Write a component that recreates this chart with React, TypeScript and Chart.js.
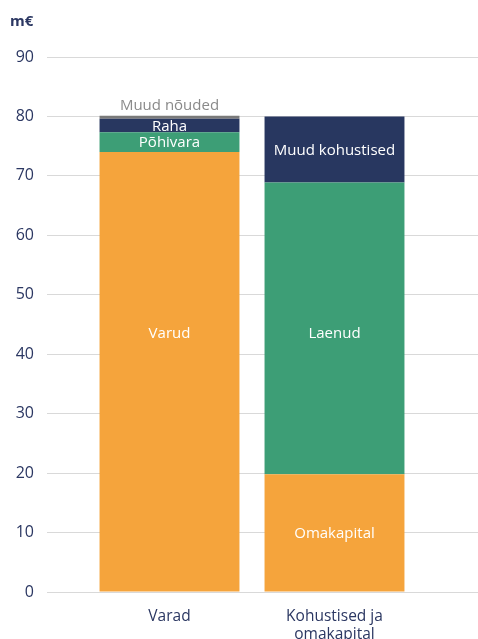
import React, { useEffect, useRef } from "react";
import { Chart, registerables } from "chart.js";

Chart.register(...registerables);

const categories: (string | string[])[] = ["Varad", ["Kohustised ja", "omakapital"]];
const yTicks = { min: 0, max: 90, step: 10 };
const unitLabel = "m€";

// Varad (assets)
const varud = [74, null];
const pohivara = [3.35, null];
const raha = [2.25, null];
const muudNouded = [0.5, null];
// Kohustised ja omakapital
const omakapital = [null, 19.8];
const laenud = [null, 49.1];
const muudKohustised = [null, 11.1];

const ORANGE = "#F5A43C";
const GREEN = "#3D9E76";
const NAVY = "#283760";
const GREY = "#7A7A7A";
const TEXT = "#2B3762";
const FONT = "'Open Sans', 'DejaVu Sans', sans-serif";

const segLabels = {
  id: "segLabels",
  afterDatasetsDraw(chart: any) {
    const ctx = chart.ctx;
    ctx.save();
    ctx.font = `15px ${FONT}`;
    ctx.textAlign = "center";
    ctx.textBaseline = "middle";
    let laenudY: number | null = null;
    chart.data.datasets.forEach((ds: any, di: number) => {
      if (ds.label === "Laenud") {
        const meta = chart.getDatasetMeta(di);
        meta.data.forEach((el: any, i: number) => {
          if (ds.data[i] == null) return;
          laenudY = (el.y + el.base) / 2;
        });
      }
    });
    chart.data.datasets.forEach((ds: any, di: number) => {
      const meta = chart.getDatasetMeta(di);
      meta.data.forEach((el: any, i: number) => {
        if (ds.data[i] == null) return;
        let cy = (el.y + el.base) / 2 + 1;
        if (ds.label === "Muud nõuded") {
          ctx.fillStyle = "#8A8A8A";
          ctx.fillText(ds.label, el.x, el.y - 10);
          return;
        }
        if ((ds.label === "Varud" || ds.label === "Laenud") && laenudY != null) cy = laenudY + 5;
        ctx.fillStyle = "#FFFFFF";
        ctx.fillText(ds.label, el.x, cy);
      });
    });
    ctx.restore();
  },
};

export default function App() {
  const ref = useRef<HTMLCanvasElement>(null);
  useEffect(() => {
    if (!ref.current) return;
    const mk = (label: string, data: any[], color: string) => ({
      label,
      data,
      backgroundColor: color,
      borderWidth: 0,
      stack: "s",
      categoryPercentage: 1,
      barPercentage: 0.848,
      skipNull: true,
    });
    const chart = new Chart(ref.current, {
      type: "bar",
      data: {
        labels: categories,
        datasets: [
          mk("Varud", varud, ORANGE),
          mk("Põhivara", pohivara, GREEN),
          mk("Raha", raha, NAVY),
          mk("Muud nõuded", muudNouded, GREY),
          mk("Omakapital", omakapital, ORANGE),
          mk("Laenud", laenud, GREEN),
          mk("Muud kohustised", muudKohustised, NAVY),
        ] as any,
      },
      options: {
        animation: false,
        responsive: false,
        layout: { padding: { top: 57, left: 0, right: 0, bottom: 0 } },
        plugins: {
          legend: { display: false },
          tooltip: { enabled: false },
        },
        scales: {
          x: {
            stacked: true,
            grid: { display: false, drawTicks: false },
            border: { display: false },
            ticks: {
              color: TEXT,
              font: { family: FONT, size: 15.5, lineHeight: 1.13 },
              padding: 16,
              maxRotation: 0,
              autoSkip: false,
            },
            afterFit: (s: any) => {
              s.height = 47;
            },
          },
          y: {
            stacked: true,
            min: yTicks.min,
            max: yTicks.max,
            grid: { color: "#D9D9D9", lineWidth: 1, drawTicks: true, tickLength: 40 },
            border: { display: false },
            ticks: {
              stepSize: yTicks.step,
              color: TEXT,
              font: { family: FONT, size: 16 },
              padding: 13,
            },
            afterFit: (s: any) => {
              s.width = 87;
            },
          },
          y2: {
            position: "right",
            min: yTicks.min,
            max: yTicks.max,
            grid: { color: "#D9D9D9", lineWidth: 1, drawOnChartArea: false, drawTicks: true, tickLength: 61 },
            border: { display: false },
            ticks: { display: false, stepSize: yTicks.step },
            afterFit: (s: any) => {
              s.width = 61;
            },
          },
        },
      } as any,
      plugins: [segLabels],
    });
    return () => chart.destroy();
  }, []);
  return (
    <div style={{ position: "absolute", left: 0, top: 0, width: 478, height: 639 }}>
      <div
        style={{
          position: "absolute",
          left: 10,
          top: 10,
          font: `bold 15px ${FONT}`,
          color: TEXT,
          lineHeight: "20px",
        }}
      >
        {unitLabel}
      </div>
      <canvas ref={ref} width={478} height={639} style={{ display: "block" }} />
    </div>
  );
}
